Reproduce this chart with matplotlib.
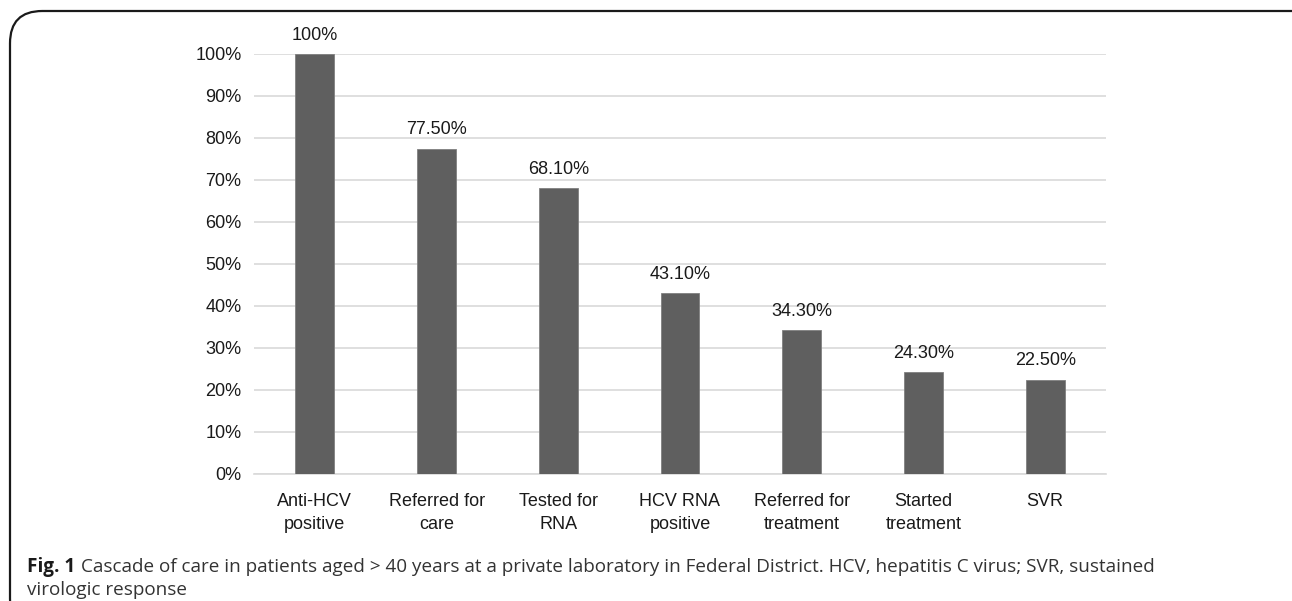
import matplotlib
matplotlib.use("Agg")
from matplotlib import pyplot as plt
from matplotlib.patches import FancyBboxPatch

stages = ["Anti-HCV\npositive", "Referred for\ncare", "Tested for\nRNA", "HCV RNA\npositive",
          "Referred for\ntreatment", "Started\ntreatment", "SVR"]
values = [100, 77.5, 68.1, 43.1, 34.3, 24.3, 22.5]
value_labels = ["100%", "77.50%", "68.10%", "43.10%", "34.30%", "24.30%", "22.50%"]
yticks = list(range(0, 101, 10))

plt.rcParams['font.family'] = ['Liberation Sans', 'DejaVu Sans']

fig = plt.figure(figsize=(12.92, 6.01), dpi=100)

# rounded frame around the figure
frame = FancyBboxPatch((10 / 1292, -0.05), 1.2, 1.0 - 11 / 601 + 0.05,
                       boxstyle="round,pad=0,rounding_size=0.025",
                       transform=fig.transFigure, fill=False, ec="#1a1a1a", lw=1.6,
                       mutation_aspect=1292 / 601)
fig.patches.append(frame)

ax = fig.add_axes([254 / 1292, 1 - 474 / 601, (1106 - 254) / 1292, (474 - 54) / 601])
x = range(len(stages))
bars = ax.bar(x, values, width=0.32, color="#5f5f5f", edgecolor="#808080", lw=0.6, zorder=3)
for b, lab in zip(bars, value_labels):
    ax.text(b.get_x() + b.get_width() / 2, b.get_height() + 2.4, lab,
            ha="center", va="bottom", fontsize=13, color="#1a1a1a")

ax.set_xlim(-0.5, len(stages) - 0.5)
ax.set_ylim(0, 100)
ax.set_yticks(yticks)
ax.set_yticklabels([f"{t}%" for t in yticks], fontsize=13, color="#1a1a1a")
ax.set_xticks(list(x))
ax.set_xticklabels(stages, fontsize=13, color="#1a1a1a", linespacing=1.4)
ax.tick_params(axis="both", length=0)
ax.tick_params(axis="y", pad=9)
ax.tick_params(axis="x", pad=14)
ax.grid(axis="y", color="#d9d9d9", lw=1.2, zorder=0)
for s in ["top", "right", "left"]:
    ax.spines[s].set_visible(False)
ax.spines["bottom"].set_color("#d9d9d9")
ax.spines["bottom"].set_linewidth(1.2)

cap_font = ["Open Sans", "DejaVu Sans"]
fig.text(27 / 1292, 1 - 567 / 601, "Fig. 1", fontsize=13.6, fontweight="bold",
         family=cap_font, color="#1a1a1a", va="center")
fig.text(81 / 1292, 1 - 567 / 601,
         "Cascade of care in patients aged > 40 years at a private laboratory in Federal District. "
         "HCV, hepatitis C virus; SVR, sustained",
         fontsize=13.6, family=cap_font, color="#333333", va="center")
fig.text(27 / 1292, 1 - 590 / 601, "virologic response", fontsize=13.6,
         family=cap_font, color="#333333", va="center")

fig.savefig("out.png", dpi=100)
